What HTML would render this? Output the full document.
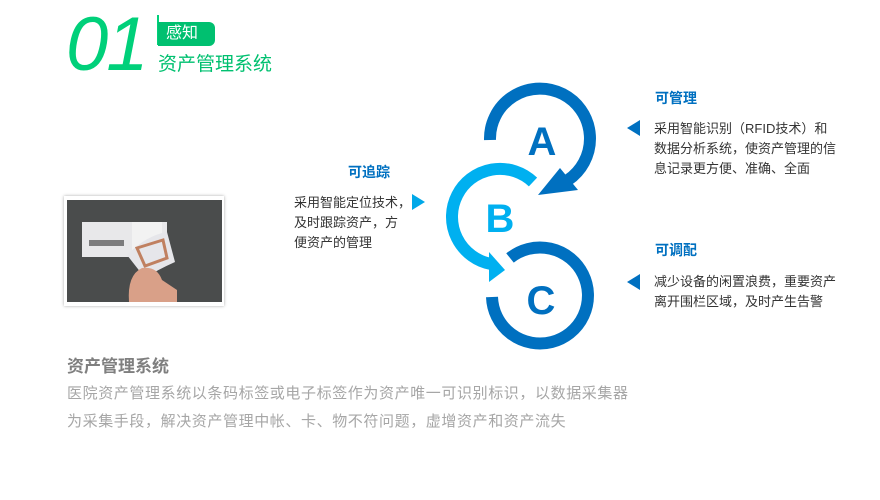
<!DOCTYPE html>
<html><head><meta charset="utf-8"><style>
body{margin:0;width:880px;height:500px;background:#fff;position:relative;overflow:hidden;font-family:"Liberation Sans","Noto Sans CJK SC",sans-serif}
.a{position:absolute;white-space:nowrap}
.t{color:#333;font-size:13px;line-height:20px}
.h{color:#0070c0;font-size:14px;font-weight:bold}
</style></head><body>
<div class="a" style="left:66px;top:0px;font-size:76px;font-style:italic;color:#00d07a;line-height:90px;letter-spacing:-2px">01</div>
<div class="a" style="left:157px;top:15px;width:2px;height:30px;background:#00d07a"></div>
<div class="a" style="left:158px;top:22px;width:57px;height:24px;background:#00c070;border-radius:0 6px 6px 0;color:#fff;font-size:16px;line-height:24px;text-indent:8px">感知</div>
<div class="a" style="left:158px;top:53px;font-size:19px;color:#00c070;line-height:24px">资产管理系统</div>

<div class="a" style="left:64px;top:196px;width:160px;height:110px;background:#fff;box-shadow:0 0 3px #aaa"></div>
<svg class="a" style="left:67px;top:200px" width="155" height="102" viewBox="0 0 155 102">
<rect width="155" height="102" fill="#4a4c4c"/>
<rect x="15" y="22" width="85" height="35" fill="#e8e8ea"/>
<rect x="65" y="22" width="30" height="30" fill="#f2f2f2"/>
<rect x="22" y="40" width="35" height="6" fill="#333" opacity=".6"/>
<path d="M60 55 Q80 35 100 32 L108 62 Q90 70 78 78 Z" fill="#e6e6ea"/>
<path d="M70 48 L96 40 L100 58 L78 66 Z" fill="none" stroke="#c08060" stroke-width="3"/>
<path d="M62 102 Q60 75 75 68 Q90 66 95 80 L110 90 L110 102 Z" fill="#d9a088"/>
</svg>

<div class="a h" style="left:348px;top:162px">可追踪</div>
<div class="a t" style="left:294px;top:193px">采用智能定位技术，<br>及时跟踪资产，方<br>便资产的管理</div>
<svg class="a" style="left:412px;top:194px" width="14" height="16"><polygon points="0,0 13,8 0,16" fill="#00a8e8"/></svg>

<div class="a h" style="left:655px;top:88px">可管理</div>
<svg class="a" style="left:627px;top:120px" width="14" height="16"><polygon points="13,0 0,8 13,16" fill="#0070c0"/></svg>
<div class="a t" style="left:654px;top:119px">采用智能识别（RFID技术）和<br>数据分析系统，使资产管理的信<br>息记录更方便、准确、全面</div>

<div class="a h" style="left:655px;top:240px">可调配</div>
<svg class="a" style="left:627px;top:274px" width="14" height="16"><polygon points="13,0 0,8 13,16" fill="#0070c0"/></svg>
<div class="a t" style="left:654px;top:272px">减少设备的闲置浪费，重要资产<br>离开围栏区域，及时产生告警</div>

<svg class="a" style="left:0;top:0" width="880" height="500">
<g fill="none" stroke-width="12">
<path d="M490 140 A50 50 0 1 1 568 180" stroke="#0070c0"/>
<path d="M533 182 A48 48 0 1 0 491 264" stroke="#00b0f0"/>
<path d="M492 297 A48 48 0 1 0 510 258" stroke="#0070c0"/>
</g>
<polygon points="578,190 560,168 538,195" fill="#0070c0"/>
<polygon points="489,252 489,282 505,270" fill="#00b0f0"/>
<g font-family="Liberation Sans,sans-serif" font-weight="bold" font-size="40" text-anchor="middle">
<text x="542" y="155" fill="#0070c0">A</text>
<text x="500" y="232" fill="#00b0f0">B</text>
<text x="541" y="314" fill="#0070c0">C</text>
</g>
</svg>

<div class="a" style="left:67px;top:352px;font-size:17px;font-weight:bold;color:#7f7f7f">资产管理系统</div>
<div class="a" style="left:67px;top:380px;font-size:15px;color:#a6a6a6;line-height:28px;letter-spacing:0.6px">医院资产管理系统以条码标签或电子标签作为资产唯一可识别标识，以数据采集器<br>为采集手段，解决资产管理中帐、卡、物不符问题，虚增资产和资产流失</div>
</body></html>
